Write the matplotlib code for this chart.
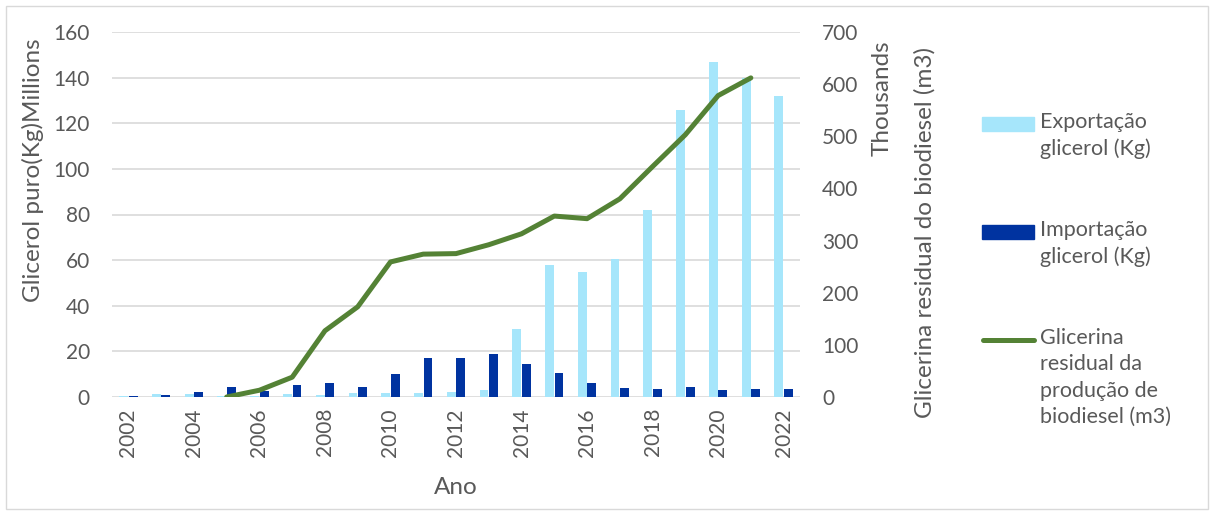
import numpy as np
import matplotlib.pyplot as plt
from matplotlib.patches import Rectangle
from matplotlib.lines import Line2D

plt.rcParams['font.family'] = ['Lato', 'DejaVu Sans']

anos = list(range(2002, 2023))
# exportação e importação de glicerol (milhões de kg)
exportacao = [0.6, 1.2, 1.5, 0.3, 0.5, 1.5, 0.9, 1.8, 1.8, 1.8, 2.3, 2.9, 29.6,
              58, 55, 60.5, 82, 126, 147, 140, 132]
importacao = [0.4, 0.7, 2.0, 4.4, 2.6, 5.4, 6.3, 4.5, 10.2, 17, 17, 19, 14.5,
              10.5, 6.3, 3.9, 3.4, 4.2, 3.1, 3.4, 3.6]
# glicerina residual do biodiesel (milhares de m3), a partir de 2005
anos_glicerina = list(range(2005, 2022))
glicerina = [0, 13, 38, 127, 173, 259, 274, 275, 292, 313, 347, 342, 380,
             442, 503, 578, 612]

azul_claro = '#A6E6FB'
azul_escuro = '#0033A0'
verde = '#548235'
cinza_txt = '#595959'
fs = 15
fs_titulo = 17.5

fig = plt.figure(figsize=(12.13, 5.14), dpi=100)
ax = fig.add_axes([112 / 1213, 117 / 514, 688 / 1213, 365 / 514])
ax2 = ax.twinx()

x = np.arange(len(anos))
w = 0.27
ax.bar(x - w / 2 - 0.01, exportacao, w, color=azul_claro, zorder=2)
ax.bar(x + w / 2 + 0.01, importacao, w, color=azul_escuro, zorder=2)

xg = [anos.index(a) for a in anos_glicerina]
ax2.plot(xg, glicerina, color=verde, lw=3.6, solid_capstyle='round', zorder=3)

ax.set_xlim(-0.5, len(anos) - 0.5)
ax.set_ylim(0, 160)
ax.set_yticks(range(0, 161, 20))
ax2.set_ylim(0, 700)
ax2.set_yticks(range(0, 701, 100))
ax.set_xticks(x[::2])
ax.set_xticklabels([str(a) for a in anos[::2]], rotation=90)

ax.grid(axis='y', color='#D9D9D9', lw=1.2, zorder=0)
ax.set_axisbelow(True)
for a in (ax, ax2):
    for s in a.spines.values():
        s.set_visible(False)
ax.tick_params(axis='both', length=0, labelsize=fs, labelcolor=cinza_txt)
ax.tick_params(axis='y', pad=16)
ax.tick_params(axis='x', pad=8)
ax2.tick_params(axis='y', length=0, labelsize=fs, labelcolor=cinza_txt, pad=16)

ax.set_xlabel('Ano', fontsize=fs_titulo, color=cinza_txt, labelpad=15)

fig.text(33 / 1213, 1 - 170 / 514, 'Glicerol puro(Kg)Millions', rotation=90,
         ha='center', va='center', fontsize=fs_titulo, color=cinza_txt)
fig.text(882 / 1213, 1 - 98 / 514, 'Thousands', rotation=90,
         ha='center', va='center', fontsize=fs_titulo, color=cinza_txt)
fig.text(925 / 1213, 1 - 232 / 514, 'Glicerina residual do biodiesel (m3)',
         rotation=90, ha='center', va='center', fontsize=fs_titulo, color=cinza_txt)

# legenda
itens = [
    ('patch', azul_claro, 124, 'Exportação\nglicerol (Kg)'),
    ('patch', azul_escuro, 232, 'Importação\nglicerol (Kg)'),
    ('line', verde, 340, 'Glicerina\nresidual da\nprodução de\nbiodiesel (m3)'),
]
for tipo, cor, yp, txt in itens:
    yf = 1 - yp / 514
    if tipo == 'patch':
        fig.patches.append(Rectangle((982 / 1213, yf - 7 / 514), 52 / 1213, 14 / 514,
                                     transform=fig.transFigure, color=cor))
    else:
        fig.lines.append(Line2D([983 / 1213, 1034 / 1213], [yf, yf], color=cor, lw=3.6,
                                solid_capstyle='round', transform=fig.transFigure))
    fig.text(1040 / 1213, yf + 12 / 514, txt, ha='left', va='top', fontsize=fs + 0.5,
             color=cinza_txt, linespacing=1.4)

fig.patches.append(Rectangle((6 / 1213, 5 / 514), 1202 / 1213, 503 / 514,
                             transform=fig.transFigure, fill=False,
                             edgecolor='#D9D9D9', lw=1))

fig.savefig('out.png', dpi=100)
